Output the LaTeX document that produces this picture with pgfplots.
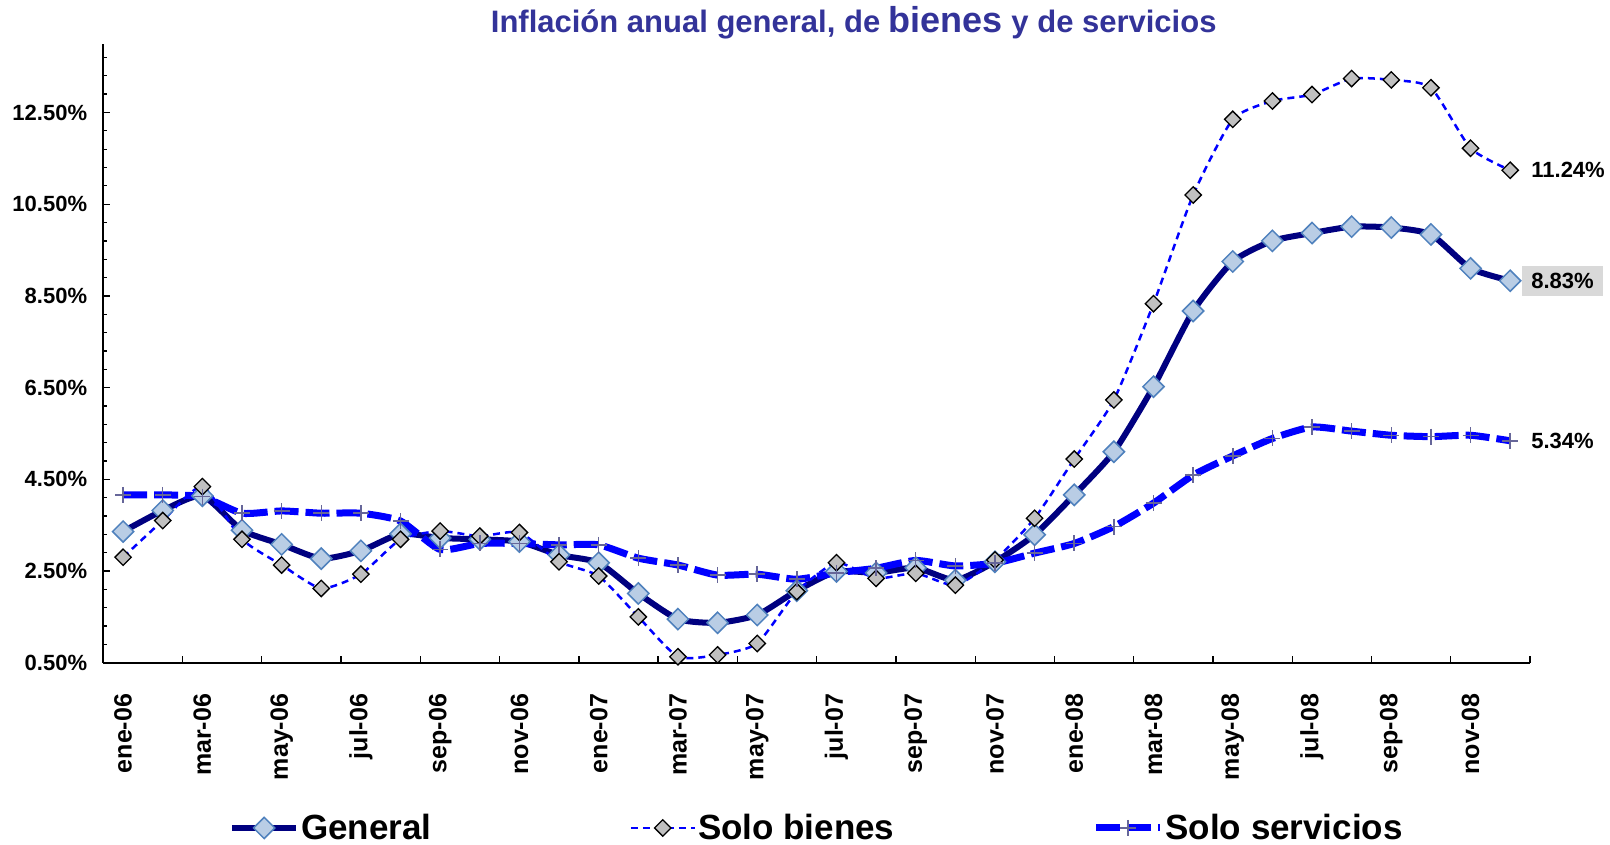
\documentclass[border=0pt]{standalone}
\usepackage{fontspec}
\setmainfont{Liberation Sans}
\usepackage{pgfplots}
\pgfplotsset{compat=1.18}
\definecolor{navyline}{HTML}{000080}
\definecolor{blueline}{HTML}{0000FF}
\definecolor{diafill}{HTML}{B9CDE5}
\definecolor{diaedge}{HTML}{4F81BD}
\definecolor{grayfill}{HTML}{C0C0C0}
\definecolor{plusgray}{HTML}{666699}
\definecolor{titleblue}{HTML}{333399}
\definecolor{boxgray}{HTML}{D9D9D9}

\pgfplotstableread{
i general bienes servicios
0 3.36 2.80 4.16
1 3.82 3.60 4.16
2 4.14 4.34 4.12
3 3.39 3.19 3.76
4 3.08 2.63 3.81
5 2.77 2.12 3.76
6 2.94 2.43 3.76
7 3.31 3.19 3.59
8 3.22 3.37 2.97
9 3.19 3.26 3.10
10 3.14 3.34 3.10
11 2.85 2.70 3.07
12 2.68 2.39 3.07
13 2.01 1.50 2.78
14 1.45 0.63 2.63
15 1.37 0.67 2.41
16 1.54 0.92 2.43
17 2.07 2.05 2.32
18 2.49 2.68 2.46
19 2.46 2.34 2.56
20 2.57 2.45 2.73
21 2.30 2.19 2.61
22 2.70 2.74 2.67
23 3.29 3.65 2.89
24 4.16 4.94 3.10
25 5.10 6.23 3.47
26 6.52 8.33 3.98
27 8.17 10.70 4.59
28 9.25 12.35 5.01
29 9.70 12.75 5.39
30 9.87 12.89 5.64
31 10.01 13.24 5.55
32 9.99 13.21 5.46
33 9.84 13.04 5.43
34 9.10 11.72 5.46
35 8.83 11.24 5.34
}\datatable

\begin{document}
\begin{tikzpicture}
\begin{axis}[
  scale only axis, width=1426.7pt, height=619pt,
  xmin=-0.5, xmax=35.5, ymin=0.5, ymax=14,
  axis lines*=left,
  axis line style={line width=1.8pt, black},
  clip=false,
  tick align=inside,
  major tick length=7pt,
  minor tick length=4pt,
  tick style={line width=1.3pt, black},
  xtick={-0.5,1.5,...,35.5},
  xticklabels={},
  extra x ticks={0,2,...,34},
  extra x tick labels={ene-06,mar-06,may-06,jul-06,sep-06,nov-06,ene-07,mar-07,may-07,jul-07,sep-07,nov-07,ene-08,mar-08,may-08,jul-08,sep-08,nov-08},
  extra x tick style={major tick length=0pt},
  xticklabel style={rotate=90, anchor=east, inner xsep=31pt, font=\bfseries\fontsize{25}{25}\selectfont},
  ytick={0.5,2.5,...,12.5},
  yticklabels={0.50\%,2.50\%,4.50\%,6.50\%,8.50\%,10.50\%,12.50\%},
  minor ytick={0.9,1.3,...,13.8},
  yticklabel style={inner xsep=16pt, font=\bfseries\fontsize{22}{22}\selectfont},
  legend columns=3,
  legend style={at={(0.0881,-0.267)}, anchor=west, draw=none, fill=none, inner sep=0pt,
    font=\bfseries\fontsize{35}{35}\selectfont,
    nodes={inner xsep=2pt, inner ysep=0pt},
    /tikz/every even column/.append style={column sep=196pt}},
  legend image code/.code={\draw[mark repeat=2,mark phase=2,#1] plot coordinates {(0pt,0pt) (32pt,0pt) (64pt,0pt)};},
]
\addplot[color=navyline, line width=6pt, smooth, tension=0.35,
  mark=square*, mark size=7.5pt,
  mark options={solid, rotate=45, fill=diafill, draw=diaedge, line width=1.5pt}]
  table[x=i, y=general] {\datatable};
\addlegendentry{General}
\addplot[color=blueline, line width=2.5pt, dash pattern=on 7pt off 5pt, smooth, tension=0.35,
  mark=square*, mark size=5.8pt,
  mark options={solid, rotate=45, fill=grayfill, draw=black, line width=1.3pt}]
  table[x=i, y=bienes] {\datatable};
\addlegendentry{Solo bienes}
\addplot[color=blueline, line width=7pt, dash pattern=on 24pt off 7pt, smooth, tension=0.35,
  mark=+, mark size=8pt,
  mark options={solid, draw=plusgray, line width=1.5pt}]
  table[x=i, y=servicios] {\datatable};
\addlegendentry{Solo servicios}

\node[anchor=west, xshift=12pt, inner xsep=9pt, font=\bfseries\fontsize{22}{22}\selectfont] at (axis cs:35,11.24) {11.24\%};
\node[anchor=west, xshift=12pt, inner xsep=9pt, inner ysep=7pt, fill=boxgray, font=\bfseries\fontsize{22}{22}\selectfont] at (axis cs:35,8.83) {8.83\%};
\node[anchor=west, xshift=12pt, inner xsep=9pt, font=\bfseries\fontsize{22}{22}\selectfont] at (axis cs:35,5.34) {5.34\%};
\node[font=\bfseries\fontsize{31}{31}\selectfont, text=titleblue] at (axis description cs:0.526,1.034)
  {Inflación anual general, de {\fontsize{36}{36}\selectfont bienes} y de servicios};
\end{axis}
\pgfresetboundingbox
\path[use as bounding box] (-103.3pt,-182.3pt) rectangle (1506.7pt,662.7pt);
\end{tikzpicture}
\end{document}
